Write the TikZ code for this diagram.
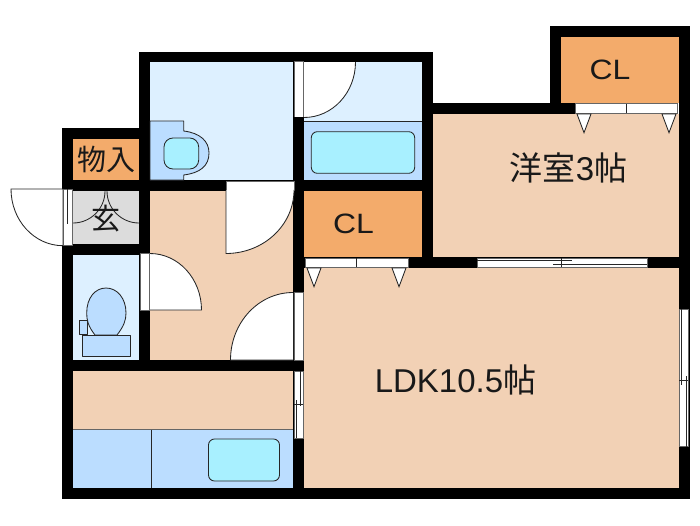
\documentclass[tikz,border=0pt]{standalone}
\usepackage{fontspec}
\setmainfont{Liberation Sans}
\newfontfamily\jpfont{Noto Sans CJK JP}
\definecolor{floorcol}{HTML}{F2D1B5}
\definecolor{closetcol}{HTML}{F3AB6B}
\definecolor{palecol}{HTML}{DDF0FF}
\definecolor{midcol}{HTML}{BBDDFF}
\definecolor{tubcol}{HTML}{A8F0FF}
\definecolor{entrycol}{HTML}{DCDCDC}
\tikzset{
	thinline/.style={draw=black!85,line width=0.85pt},
	opening/.style={fill=white,draw=black!60,line width=0.7pt},
	door/.style={fill=white,draw=black!85,line width=0.85pt},
	fitting/.style={thinline,line join=round},
	label/.style={inner sep=0pt,text=black!90}
}
\begin{document}
\begin{tikzpicture}[x=1pt,y=-1pt]
	\useasboundingbox (0,0) rectangle (700,525);
	%%%%%%%% rooms
	\foreach \col/\a/\b/\c/\d in {palecol/150/62/293/180,palecol/304/62/422/121,midcol/304/121/422/180,
			closetcol/73/139/139/180,entrycol/73/191/139/244,palecol/73/255/139/360,floorcol/150/191/293/360,
			floorcol/73/371/293/429,midcol/73/429/293/488,closetcol/304/191/422/257,closetcol/561/37/678.5/103,
			floorcol/432/114/678.5/257,floorcol/304/268/678.5/488}
		\fill[\col] (\a,\b) rectangle (\c,\d);
	%%%%%%%% walls
	\foreach \a/\b/\c/\d in {139/52/432.7/62,139/52/150/371,62/128/139/139,62/128/73/498.5,62/180/304/191,
			62/244/150/255,62/360/304/371,62/488/689.5/498.5,293/52/304/498.5,422/52/432.7/268,293/180/432.7/191,
			293/257/689.5/268,432/103/678/114,678.5/25.7/689.5/498.5,550/25.7/561/114,550/25.7/689.5/37}
		\fill[black] (\a,\b) rectangle (\c,\d);
	%%%%%%%% wall openings
	\foreach \a/\b/\c/\d in {63/189/72/245.7,294/61/303/117,226/181/294.5/190,140/253/149/310,294/292/303/360,
			294/371/303/438,305/258/408/267,575/103.5/677.5/113,477/258/647.5/267,679/309/688/446.7}
		\draw[opening] (\a,\b) rectangle (\c,\d);
	\foreach \a/\b/\c/\d in {356.7/258/356.7/267,626/103.5/626/113,
			477/260.5/571.5/260.5,553/264/647/264,561.5/258/561.5/267,
			681.5/309/681.5/385,686/376/686/446.7,679/380/688/380,
			300.5/371/300.5/406,296.5/400/296.5/438,294/404.5/303/404.5,
			67.7/189/67.7/224}
		\draw[thinline] (\a,\b) -- (\c,\d);
	%%%%%%%% doors
	\draw[door] (63,189) -- (11,189) arc[start angle=180,end angle=90,x radius=52,y radius=56.7] -- cycle;
	\draw[door] (226,190) -- (226,253.5) arc[start angle=90,end angle=0,x radius=68,y radius=63.5];
	\draw[door] (150,310) -- (201.5,310) arc[start angle=0,end angle=-90,x radius=51.5,y radius=56.5];
	\draw[door] (293,360) -- (230.5,360) arc[start angle=180,end angle=270,x radius=62.5,y radius=67.5];
	\fill[white] (304,117.5) -- (304,62) -- (355.5,62) arc[start angle=0,end angle=90,x radius=51.5,y radius=55.5] -- cycle;
	\draw[thinline] (355.5,62) arc[start angle=0,end angle=90,x radius=51.5,y radius=55.5];
	\fill[black] (293,117) rectangle (304,125);
	\draw[thinline] (73,223) arc[start angle=90,end angle=0,radius=32];
	\draw[thinline] (139,223) arc[start angle=90,end angle=180,radius=32];
	%%%%%%%% closet door marks
	\foreach \x in {307,392,577,662}{
		\pgfmathsetmacro{\ytop}{\x>500 ? 114 : 268}
		\draw[door] (\x,\ytop) -- (\x+14,\ytop) -- (\x+7,\ytop+18.7) -- cycle;}
	%%%%%%%% fittings
	\draw[fitting,fill=midcol] (150,121) -- (183.7,121) -- (183.7,131) .. controls (200,133) and (209,141) .. (209,153)
		.. controls (209,166) and (200,173) .. (183.7,175) -- (183.7,180) -- (150,180) -- cycle;
	\draw[fitting,fill=tubcol,rounded corners=9pt] (164,138) rectangle (198.7,169);
	\draw[fitting,fill=tubcol,rounded corners=6pt] (311.3,131.7) rectangle (414.7,173.3);
	\draw[fitting,fill=tubcol,rounded corners=6pt] (208.5,439) rectangle (279.5,481);
	\draw[thinline] (304,121) -- (422,121);
	\draw[thinline] (151.7,429) -- (151.7,488);
	\draw[thinline,draw=black!60] (73,429) -- (293,429);
	%%%%%%%% toilet
	\draw[fitting,fill=midcol] (95,335) .. controls (88,326) and (86.7,320) .. (86.7,313)
		.. controls (86.7,298) and (95,288) .. (106,288) .. controls (117,288) and (126,298) .. (126,313)
		.. controls (126,320) and (124,326) .. (117,335) -- cycle;
	\draw[fitting,fill=midcol] (82,335) rectangle (130.5,356);
	\draw[fitting,fill=midcol] (79,320.5) rectangle (87.5,334.5);
	%%%%%%%% labels
	\node[label,font=\jpfont\fontsize{29}{29}\selectfont] (mono) at (106,159) {物入};
	\node[label,font=\jpfont\fontsize{29}{29}\selectfont] (gen) at (106,219) {玄};
	\node[label,xscale=1.14,font=\fontsize{28}{28}\selectfont] (clA) at (610,70) {CL};
	\node[label,xscale=1.14,font=\fontsize{28}{28}\selectfont] (clB) at (353.5,224) {CL};
	\node[label,font=\fontsize{33}{33}\selectfont] (yoshitsu) at (568.5,168) {{\jpfont 洋室}3{\jpfont 帖}};
	\node[label,font=\fontsize{33}{33}\selectfont] (ldk) at (455.5,380) {LDK10.5{\jpfont 帖}};
\end{tikzpicture}
\end{document}
